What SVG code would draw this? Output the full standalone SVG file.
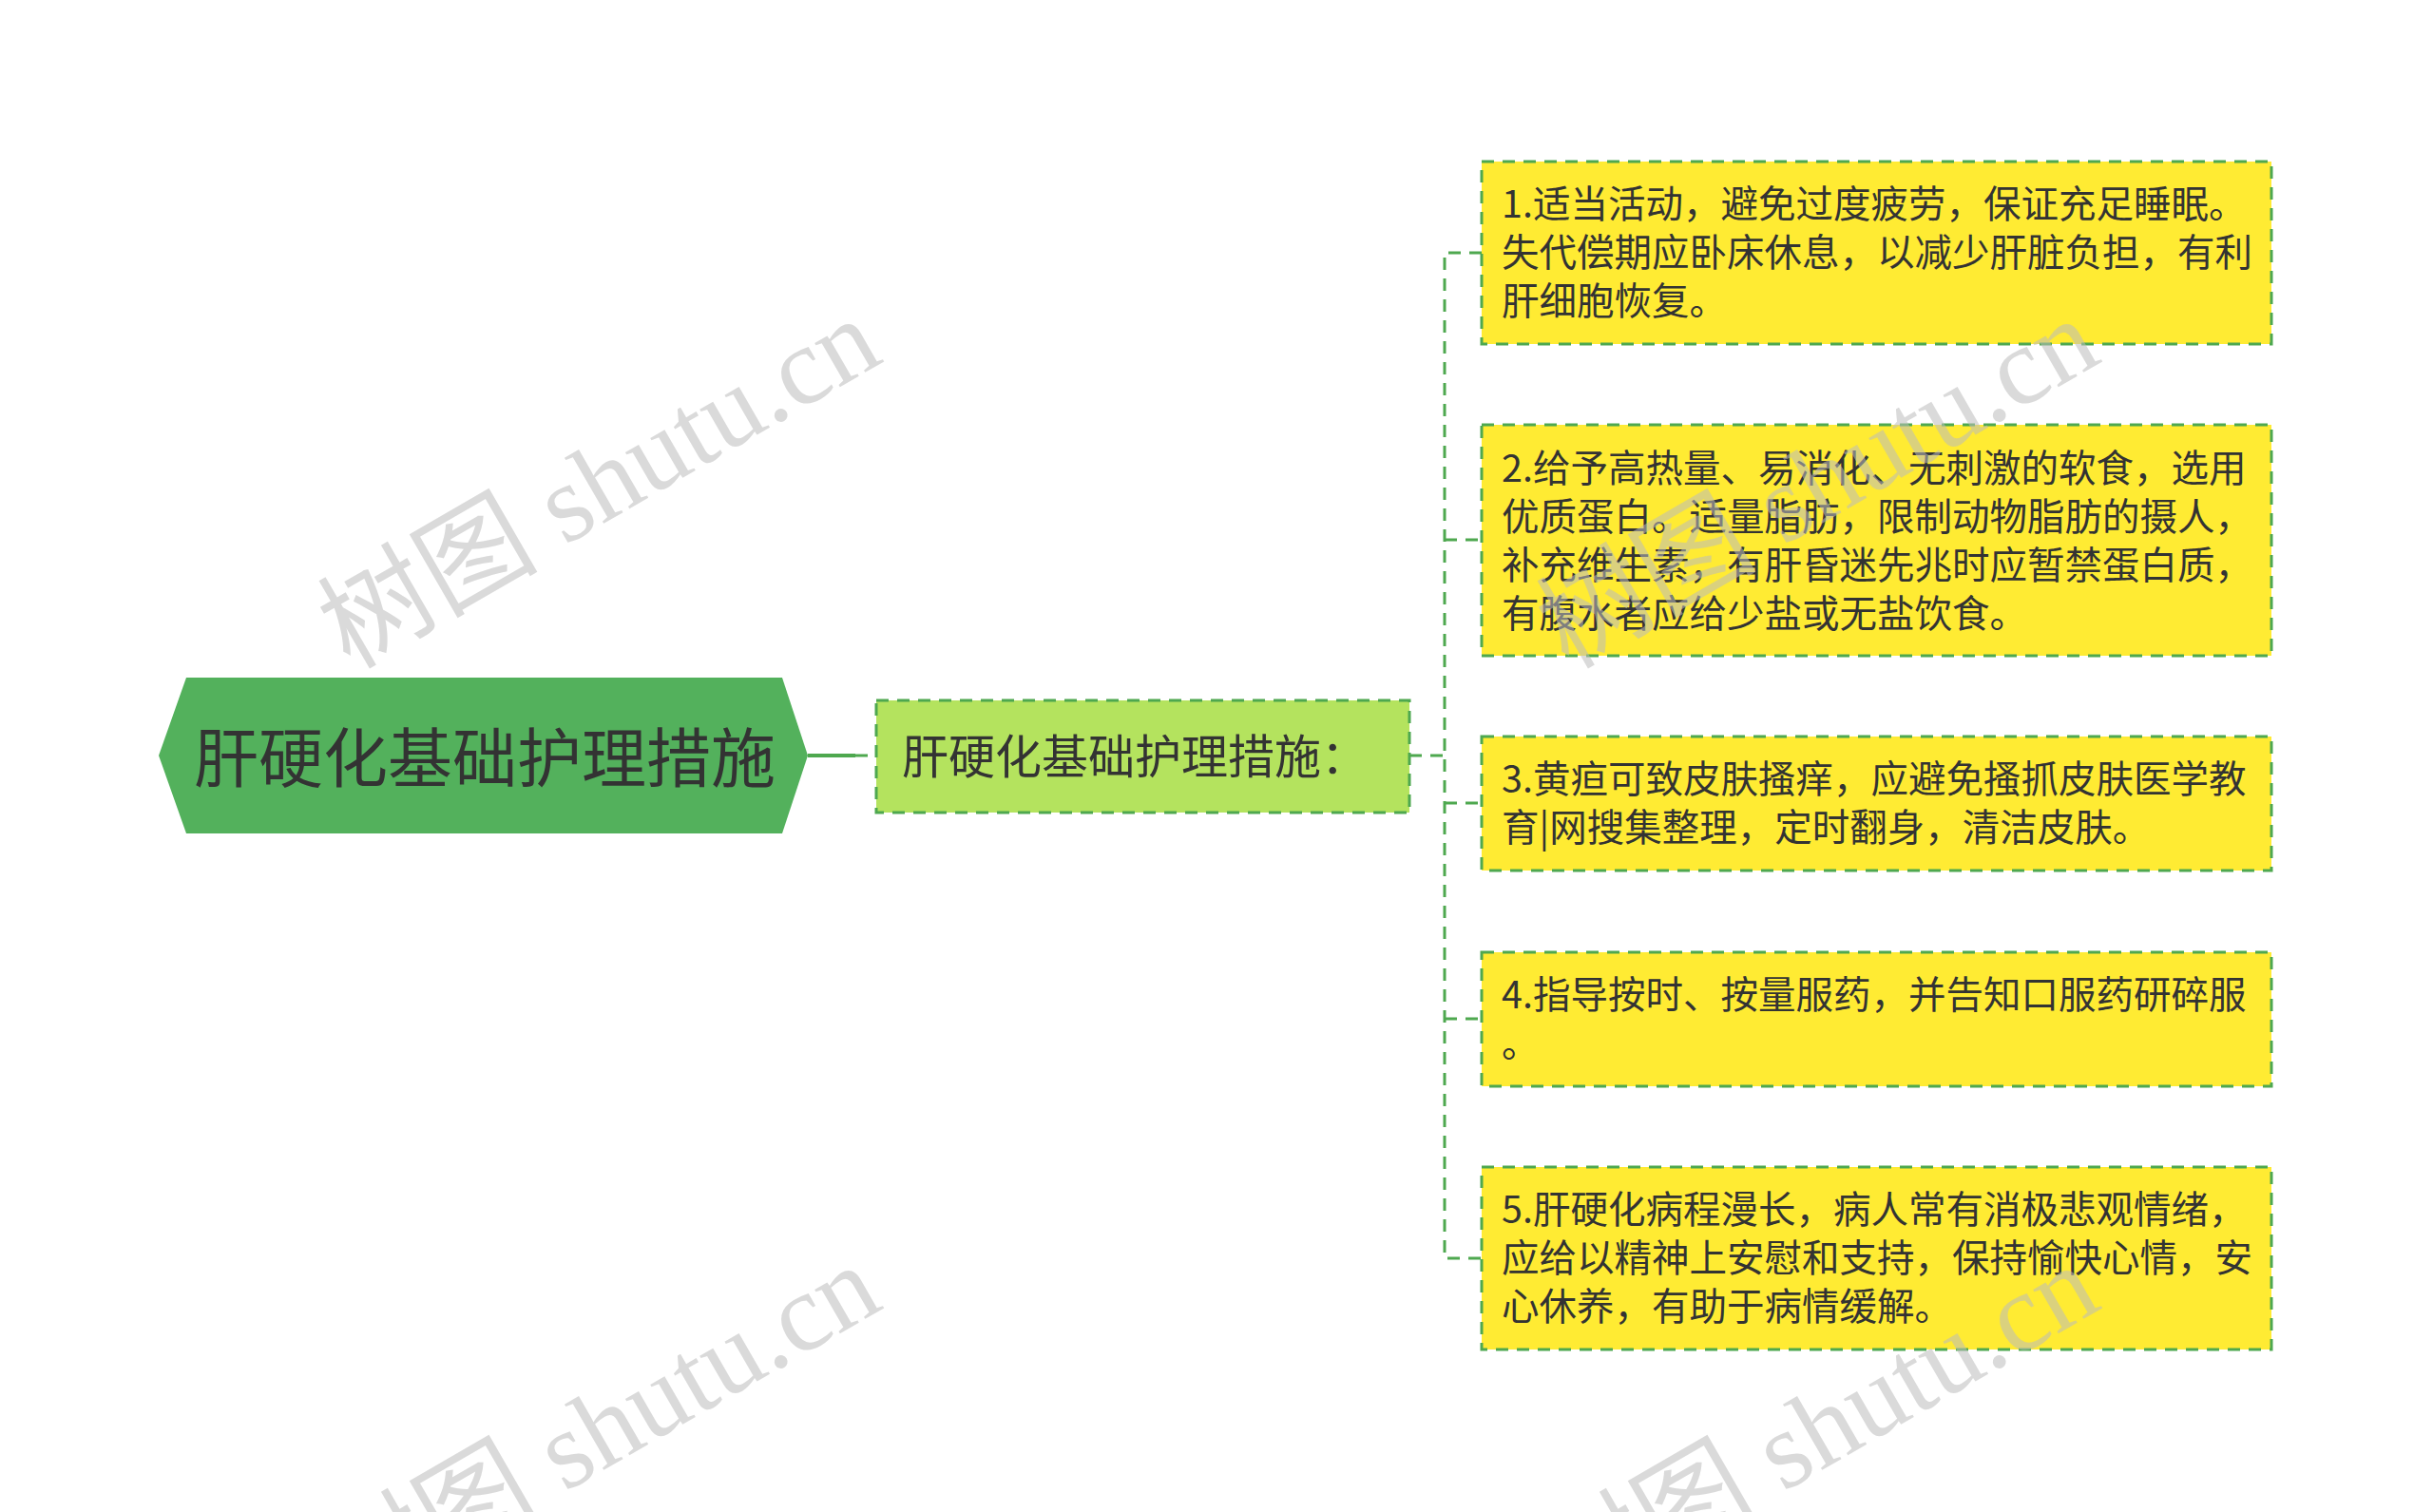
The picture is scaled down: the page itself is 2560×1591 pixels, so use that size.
<svg xmlns="http://www.w3.org/2000/svg" width="2560" height="1591" viewBox="0 0 2560 1591">
<style>
.txt{font-family:"Noto Sans CJK SC","Noto Sans",sans-serif;fill:#333333}
.leaf{fill:#ffeb33;stroke:#4ea84f;stroke-width:3;stroke-dasharray:13 9}
.sub{fill:#b4e35e;stroke:#4ea84f;stroke-width:3;stroke-dasharray:13 9}
.conn{fill:none;stroke:#4ea84f;stroke-width:3;stroke-dasharray:13 9}
.lt{font-size:39.5px}
.wm{font-family:"Liberation Serif","Noto Sans CJK SC",serif;font-size:116px;fill:#bcbcbc;fill-opacity:0.55}
</style>
<rect width="2560" height="1591" fill="#ffffff"/>
<g id="connectors">
<line x1="850" y1="795" x2="900" y2="795" stroke="#4ea84f" stroke-width="4"/>
<line x1="900" y1="795" x2="922" y2="795" class="conn"/>
<line x1="1483" y1="795" x2="1520" y2="795" class="conn"/>
<path class="conn" d="M1559 266 H1520 V1324 H1559"/>
<line x1="1520" y1="568" x2="1559" y2="568" class="conn"/>
<line x1="1520" y1="845" x2="1559" y2="845" class="conn"/>
<line x1="1520" y1="1072" x2="1559" y2="1072" class="conn"/>
</g>
<g id="root">
<polygon points="167,795 196,713 823,713 850,795 823,877 196,877" fill="#53b15c"/>
<text class="txt" x="510" y="823" font-size="68" text-anchor="middle">肝硬化基础护理措施</text>
</g>
<g id="sub">
<rect class="sub" x="922" y="737" width="561" height="118"/>
<text class="txt" x="949" y="814" font-size="49">肝硬化基础护理措施：</text>
</g>
<g id="leaf1">
<rect class="leaf" x="1559" y="170" width="831" height="192"/>
<text class="txt lt" x="1580" y="229">1.适当活动，避免过度疲劳，保证充足睡眠。</text>
<text class="txt lt" x="1580" y="280">失代偿期应卧床休息，以减少肝脏负担，有利</text>
<text class="txt lt" x="1580" y="331">肝细胞恢复。</text>
</g>
<g id="leaf2">
<rect class="leaf" x="1559" y="447" width="831" height="243"/>
<text class="txt lt" x="1580" y="507">2.给予高热量、易消化、无刺激的软食，选用</text>
<text class="txt lt" x="1580" y="558">优质蛋白。适量脂肪，限制动物脂肪的摄人，</text>
<text class="txt lt" x="1580" y="609">补充维生素，有肝昏迷先兆时应暂禁蛋白质，</text>
<text class="txt lt" x="1580" y="660">有腹水者应给少盐或无盐饮食。</text>
</g>
<g id="leaf3">
<rect class="leaf" x="1559" y="775" width="831" height="141"/>
<text class="txt lt" x="1580" y="834">3.黄疸可致皮肤搔痒，应避免搔抓皮肤医学教</text>
<text class="txt lt" x="1580" y="885">育|网搜集整理，定时翻身，清洁皮肤。</text>
</g>
<g id="leaf4">
<rect class="leaf" x="1559" y="1002" width="831" height="141"/>
<text class="txt lt" x="1580" y="1061">4.指导按时、按量服药，并告知口服药研碎服</text>
<text class="txt lt" x="1580" y="1112">。</text>
</g>
<g id="leaf5">
<rect class="leaf" x="1559" y="1228" width="831" height="192"/>
<text class="txt lt" x="1580" y="1287">5.肝硬化病程漫长，病人常有消极悲观情绪，</text>
<text class="txt lt" x="1580" y="1338">应给以精神上安慰和支持，保持愉快心情，安</text>
<text class="txt lt" x="1580" y="1389">心休养，有助于病情缓解。</text>
</g>
<g id="watermarks">
<text class="wm" transform="translate(368,705) rotate(-30)">树图 shutu.cn</text>
<text class="wm" transform="translate(1650,705) rotate(-30)">树图 shutu.cn</text>
<text class="wm" transform="translate(368,1701) rotate(-30)">树图 shutu.cn</text>
<text class="wm" transform="translate(1650,1701) rotate(-30)">树图 shutu.cn</text>
</g>
</svg>
